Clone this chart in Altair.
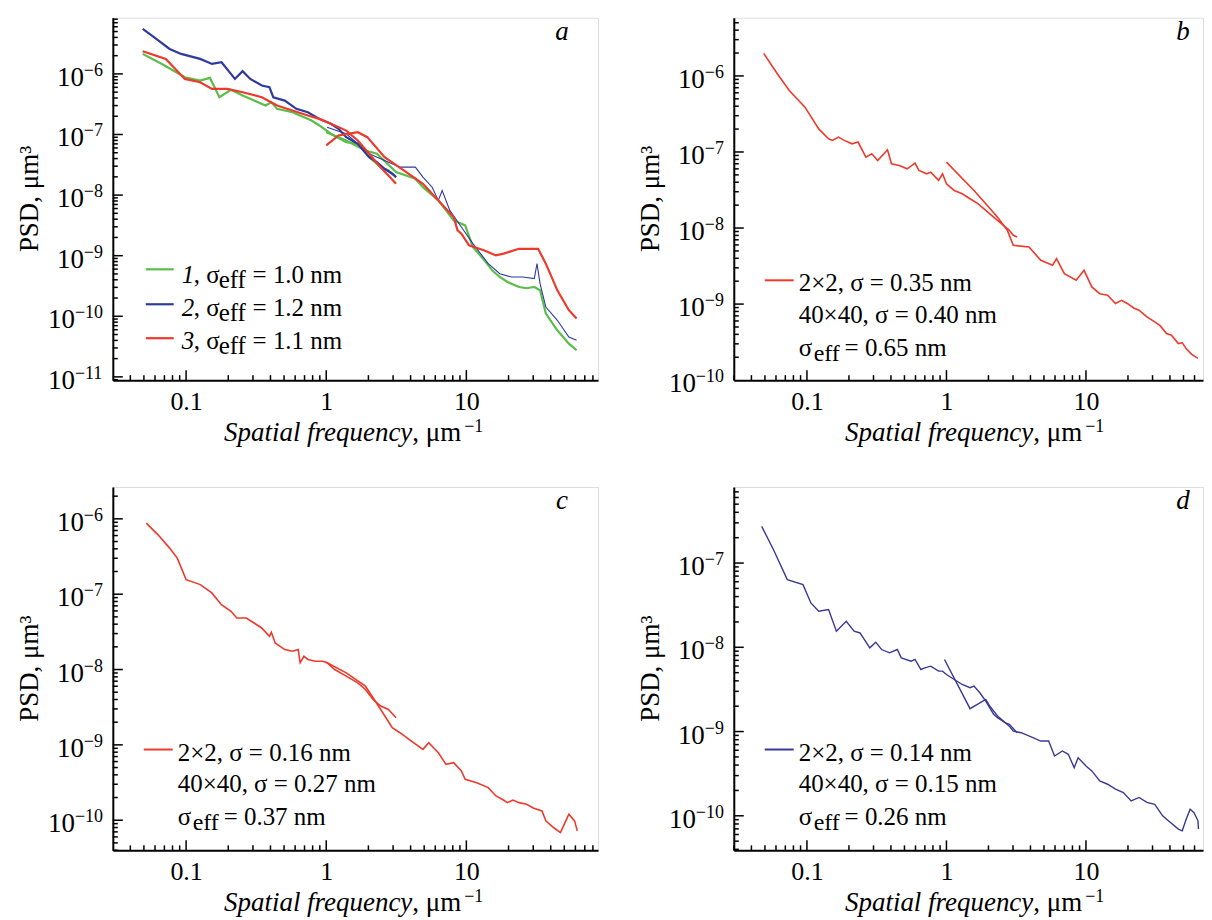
import math
import altair as alt
import pandas as pd

FONT = "Liberation Serif, Times New Roman, Times, DejaVu Serif, serif"

# ---------------- data ----------------
# Panel a : sample 1 (green), 2 (blue), 3 (red); "lo" = 40x40 scan, "hi" = 2x2 scan
a1_lo_f = [0.049, 0.0672, 0.098, 0.126, 0.148, 0.173, 0.209, 0.253, 0.306, 0.369, 0.406, 0.446,
           0.574, 0.694, 0.787, 0.893, 1.079, 1.389, 1.678, 2.027, 2.449, 2.779, 3.152]
a1_lo_p = [2.14e-6, 1.46e-6, 8.81e-7, 7.76e-7, 8.59e-7, 4.12e-7, 5.45e-7, 4.39e-7, 3.63e-7, 3.01e-7,
           3.41e-7, 2.65e-7, 2.33e-7, 1.93e-7, 1.70e-7, 1.41e-7, 1.03e-7, 7.47e-8, 7.02e-8, 4.23e-8,
           2.89e-8, 2.55e-8, 1.98e-8]
a1_hi_f = [1.0, 1.389, 1.904, 2.3, 3.152, 4.322, 4.901, 6.31, 8.12, 9.81, 11.13, 13.46, 15.27, 17.32,
           19.65, 23.73, 27.0, 30.54, 33.57, 36.92, 44.6, 53.9, 61.2]
a1_hi_p = [1.09e-7, 7.96e-8, 5.45e-8, 4.8e-8, 2.39e-8, 1.86e-8, 1.35e-8, 8.17e-9, 3.82e-9, 3.16e-9,
           1.39e-9, 8.38e-10, 5.73e-10, 4.45e-10, 3.68e-10, 3.04e-10, 2.9e-10, 3.04e-10, 2.68e-10,
           1.11e-10, 5.88e-11, 3.54e-11, 2.75e-11]

a2_lo_f = [0.049, 0.0593, 0.0763, 0.0921, 0.126, 0.153, 0.179, 0.209, 0.223, 0.253, 0.287, 0.347,
           0.393, 0.419, 0.506, 0.612, 0.739, 0.893, 1.079, 1.224, 1.389, 1.678, 2.027, 2.299, 2.609,
           2.96, 3.152]
a2_lo_p = [5.52e-6, 4.02e-6, 2.58e-6, 2.14e-6, 1.77e-6, 1.46e-6, 1.56e-6, 1.0e-6, 8.27e-7, 1.11e-6,
           8.27e-7, 6.42e-7, 6.03e-7, 4.12e-7, 3.63e-7, 2.65e-7, 2.33e-7, 1.81e-7, 1.50e-7, 1.24e-7,
           9.04e-8, 7.02e-8, 4.23e-8, 3.5e-8, 2.72e-8, 2.25e-8, 1.98e-8]
a2_hi_f = [1.013, 1.389, 2.027, 2.609, 3.357, 4.322, 4.901, 5.7, 6.31, 6.72, 7.62, 9.21, 11.13, 14.33,
           17.32, 20.93, 25.28, 30.54, 31.92, 33.57, 36.92, 44.6, 53.9, 61.2]
a2_hi_p = [1.32e-7, 1.03e-7, 4.8e-8, 3.73e-8, 2.89e-8, 2.89e-8, 1.98e-8, 1.35e-8, 8.17e-9, 1.19e-8,
           5.59e-9, 2.97e-9, 1.58e-9, 7.38e-10, 5.05e-10, 4.45e-10, 4.45e-10, 4.18e-10, 7.38e-10,
           3.45e-10, 1.42e-10, 8.59e-11, 4.56e-11, 4.02e-11]

a3_lo_f = [0.049, 0.0716, 0.098, 0.126, 0.153, 0.197, 0.253, 0.347, 0.446, 0.574, 0.739, 0.893,
           1.079, 1.389, 1.678, 2.027, 2.373, 2.779, 3.152]
a3_lo_p = [2.36e-6, 1.77e-6, 8.27e-7, 7.29e-7, 5.66e-7, 5.66e-7, 4.99e-7, 4.12e-7, 3.01e-7, 2.49e-7,
           2.06e-7, 1.81e-7, 1.50e-7, 1.16e-7, 7.96e-8, 4.8e-8, 3.08e-8, 2.11e-8, 1.54e-8]
a3_hi_f = [1.0, 1.224, 1.678, 1.965, 2.609, 3.576, 4.901, 6.31, 8.12, 8.65, 9.21, 10.45, 13.46, 16.26,
           18.45, 23.73, 32.53, 36.92, 44.6, 53.9, 61.2]
a3_hi_p = [6.59e-8, 9.63e-8, 1.09e-7, 9.04e-8, 4.23e-8, 2.55e-8, 1.54e-8, 8.17e-9, 4.34e-9, 2.62e-9,
           2.30e-9, 1.48e-9, 1.22e-9, 1.01e-9, 1.08e-9, 1.30e-9, 1.30e-9, 7.38e-10, 2.68e-10,
           1.26e-10, 9.15e-11]

# Panel b
b_lo_f = [0.049, 0.0615, 0.0747, 0.0968, 0.1215, 0.1429, 0.1525, 0.168, 0.1852, 0.2109, 0.2324,
          0.2646, 0.2916, 0.3214, 0.378, 0.4034, 0.4592, 0.5228, 0.5952, 0.6352, 0.7231, 0.7716,
          0.8785, 0.9372, 1.0, 1.138, 1.296, 1.476, 1.68, 1.913, 2.178, 2.48, 2.823, 3.012, 3.214]
b_lo_p = [1.98e-6, 1.06e-6, 6.42e-7, 3.88e-7, 2.01e-7, 1.49e-7, 1.42e-7, 1.57e-7, 1.42e-7, 1.28e-7,
          1.35e-7, 8.56e-8, 9.46e-8, 7.73e-8, 1.07e-7, 6.99e-8, 6.65e-8, 6.01e-8, 7.13e-8, 5.72e-8,
          5.17e-8, 5.44e-8, 4.23e-8, 5.17e-8, 3.82e-8, 3.12e-8, 2.82e-8, 2.43e-8, 2.09e-8, 1.71e-8,
          1.39e-8, 1.14e-8, 9.32e-9, 8.01e-9, 7.62e-9]
b_hi_f = [1.0, 1.575, 1.913, 2.324, 2.734, 3.012, 3.905, 4.745, 5.764, 6.149, 7.0, 8.51, 9.68, 11.02,
          12.55, 14.29, 16.27, 18.0, 19.76, 22.0, 24.01, 27.33, 31.12, 34.0, 37.8, 41.0, 45.92, 49.0,
          52.28, 57.0, 63.5]
b_hi_p = [7.35e-8, 3.12e-8, 2.09e-8, 1.39e-8, 9.32e-9, 5.92e-9, 5.63e-9, 3.76e-9, 3.24e-9, 3.96e-9,
          2.51e-9, 2.06e-9, 2.78e-9, 1.68e-9, 1.37e-9, 1.31e-9, 1.02e-9, 1.12e-9, 1.02e-9, 8.9e-10,
          8.3e-10, 6.79e-10, 5.83e-10, 5.2e-10, 4.1e-10, 3.9e-10, 3.03e-10, 3.1e-10, 2.6e-10,
          2.2e-10, 1.93e-10]

# Panel c
c_lo_f = [0.052, 0.0631, 0.0763, 0.0865, 0.1, 0.1263, 0.1526, 0.1787, 0.2092, 0.23, 0.2692, 0.3055,
          0.3465, 0.3933, 0.4059, 0.4321, 0.506, 0.574, 0.631, 0.6513, 0.6937, 0.739, 0.8384, 0.9508,
          1.013, 1.149, 1.389, 1.678, 1.904, 2.159, 2.449, 2.779, 3.152]
c_lo_p = [8.76e-7, 6.14e-7, 4.09e-7, 3.01e-7, 1.56e-7, 1.34e-7, 1.04e-7, 7.26e-8, 5.93e-8, 4.83e-8,
          4.83e-8, 4.15e-8, 3.56e-8, 2.76e-8, 3.12e-8, 2.25e-8, 1.84e-8, 1.75e-8, 1.84e-8, 1.23e-8,
          1.50e-8, 1.36e-8, 1.29e-8, 1.29e-8, 1.23e-8, 1.0e-8, 8.16e-9, 6.66e-9, 5.43e-9, 4.0e-9,
          3.27e-9, 2.95e-9, 2.29e-9]
c_hi_f = [1.0, 1.389, 1.904, 2.449, 2.96, 3.357, 4.057, 4.901, 5.39, 6.31, 7.16, 8.12, 9.21, 9.81,
          11.86, 14.33, 16.26, 18.0, 19.65, 21.5, 23.73, 26.92, 30.0, 34.65, 36.92, 41.87, 46.9,
          50.6, 53.9, 59.2, 61.9]
c_hi_p = [1.25e-8, 9.03e-9, 6.01e-9, 2.95e-9, 1.69e-9, 1.45e-9, 1.12e-9, 8.72e-10, 1.07e-9, 7.87e-10,
          5.51e-10, 5.8e-10, 4.5e-10, 3.49e-10, 3.15e-10, 2.71e-10, 2.1e-10, 1.9e-10, 1.71e-10,
          1.85e-10, 1.71e-10, 1.63e-10, 1.45e-10, 1.33e-10, 9.8e-11, 8.0e-11, 6.86e-11, 9.3e-11,
          1.2e-10, 9.8e-11, 7.22e-11]

# Panel d
d_lo_f = [0.0474, 0.0576, 0.0723, 0.0937, 0.1067, 0.1215, 0.1429, 0.1626, 0.1913, 0.2178, 0.2401,
          0.2823, 0.3112, 0.3429, 0.3905, 0.4445, 0.4745, 0.5579, 0.5952, 0.6561, 0.7, 0.7716,
          0.8785, 0.9372, 1.0, 1.138, 1.296, 1.476, 1.575, 1.735, 1.913, 2.178, 2.324, 2.646, 2.823,
          3.214]
d_lo_p = [2.72e-7, 1.44e-7, 6.35e-8, 5.54e-8, 3.36e-8, 2.68e-8, 2.80e-8, 1.55e-8, 2.04e-8, 1.55e-8,
          1.48e-8, 9.85e-9, 1.15e-8, 9.41e-9, 8.59e-9, 9.41e-9, 7.5e-9, 6.85e-9, 7.17e-9, 5.45e-9,
          5.71e-9, 5.97e-9, 5.21e-9, 5.21e-9, 4.76e-9, 4.15e-9, 3.62e-9, 3.31e-9, 3.46e-9, 2.89e-9,
          2.30e-9, 1.6e-9, 1.46e-9, 1.27e-9, 1.22e-9, 9.69e-10]
d_hi_f = [0.968, 1.476, 1.913, 2.041, 2.324, 2.823, 3.012, 3.429, 4.166, 4.745, 5.4, 5.952, 6.776,
          7.469, 8.232, 8.784, 10.0, 11.02, 12.55, 14.29, 16.27, 18.52, 21.08, 24.01, 27.33, 31.12,
          35.43, 40.33, 45.92, 48.98, 52.28, 55.8, 59.5, 63.5, 64.0]
d_hi_p = [7.17e-9, 1.87e-9, 2.41e-9, 2.01e-9, 1.53e-9, 1.16e-9, 1.01e-9, 9.69e-10, 8.46e-10,
          7.72e-10, 7.72e-10, 5.13e-10, 5.88e-10, 5.37e-10, 3.73e-10, 4.9e-10, 3.91e-10, 3.41e-10,
          2.59e-10, 2.37e-10, 2.07e-10, 1.89e-10, 1.50e-10, 1.65e-10, 1.44e-10, 1.37e-10, 1.0e-10,
          8.33e-11, 6.95e-11, 6.64e-11, 9.12e-11, 1.2e-10, 1.09e-10, 8.72e-11, 6.95e-11]

# axis tick labels
x_tick_values = [0.1, 1, 10]
a_y_exps = [-6, -7, -8, -9, -10, -11]
b_y_exps = [-6, -7, -8, -9, -10]
c_y_exps = [-6, -7, -8, -9, -10]
d_y_exps = [-7, -8, -9, -10]

# legend texts
a_legend = [("1", "1.0"), ("2", "1.2"), ("3", "1.1")]
b_legend = ["2×2, σ = 0.35 nm", "40×40, σ = 0.40 nm", "= 0.65 nm"]
c_legend = ["2×2, σ = 0.16 nm", "40×40, σ = 0.27 nm", "= 0.37 nm"]
d_legend = ["2×2, σ = 0.14 nm", "40×40, σ = 0.15 nm", "= 0.26 nm"]

GREEN = "#5bbd4a"
BLUE = "#2e3a9e"
RED = "#ee3a2a"
DBLUE = "#3a3896"


def log_ticks(lo, hi):
    major, minor = [], []
    for k in range(math.floor(math.log10(lo)) - 1, math.ceil(math.log10(hi)) + 1):
        for m in range(1, 10):
            v = float(f"{m}e{k}")
            if lo * 1.0001 < v < hi * 0.9999:
                (major if m == 1 else minor).append(v)
    return major, minor


ONE = pd.DataFrame({"k": [0]})


def txt(text, x, y, size=25, italic=False, align="left", angle=0, baseline="alphabetic"):
    kw = dict(text=text, font=FONT, fontSize=size, align=align, baseline=baseline, color="black")
    if italic:
        kw["fontStyle"] = "italic"
    if angle:
        kw["angle"] = angle
    return alt.Chart(ONE).mark_text(**kw).encode(x=alt.value(x), y=alt.value(y))


def seg(x1, x2, y, color, width=2.2):
    return alt.Chart(ONE).mark_rule(color=color, strokeWidth=width).encode(
        x=alt.value(x1), x2=alt.value(x2), y=alt.value(y))


def panel(series, xdom, ydom, w, h, yexps, extra, letter):
    xs = alt.Scale(type="log", domain=xdom, nice=False)
    ys = alt.Scale(type="log", domain=ydom, nice=False)
    xaxis = alt.Axis(values=x_tick_values, format="~g", tickSize=0, domainColor="black",
                     domainWidth=2, labelFont=FONT, labelFontSize=26, labelColor="black",
                     labelPadding=8, grid=False, title=None, labelFlush=False,
                     labelOverlap=False)
    yaxis = alt.Axis(values=[float(f"1e{e}") for e in yexps], labels=False,
                     tickSize=0, domainColor="black", domainWidth=2, grid=False, title=None)
    layers = []
    for f, p, color, sw in series:
        df = pd.DataFrame({"f": f, "psd": p})
        layers.append(alt.Chart(df).mark_line(color=color, strokeWidth=sw, clip=True).encode(
            x=alt.X("f:Q", scale=xs, axis=xaxis),
            y=alt.Y("psd:Q", scale=ys, axis=yaxis),
            order=alt.Order("f:Q")))
    xmaj, xmin = log_ticks(*xdom)
    ymaj, ymin = log_ticks(*ydom)
    for vals, ln in ((xmaj, 10), (xmin, 5)):
        layers.append(alt.Chart(pd.DataFrame({"f": vals})).mark_rule(color="black", strokeWidth=1.5).encode(
            x=alt.X("f:Q", scale=xs, axis=xaxis), y=alt.value(h), y2=alt.value(h - ln)))
    for vals, ln in ((ymaj, 10), (ymin, 5)):
        layers.append(alt.Chart(pd.DataFrame({"psd": vals})).mark_rule(color="black", strokeWidth=1.5).encode(
            y=alt.Y("psd:Q", scale=ys, axis=yaxis), x=alt.value(0), x2=alt.value(ln)))
    # y tick labels: "10" with a raised exponent
    for ndig, split in ((1, -29), (2, -38)):
        sel = [e for e in yexps if len(str(abs(e))) == ndig]
        if not sel:
            continue
        lab = pd.DataFrame({"psd": [float(f"1e{e}") for e in sel],
                            "ex": ["−" + str(abs(e)) for e in sel]})
        layers.append(alt.Chart(lab).mark_text(text="10", font=FONT, fontSize=27, align="right",
                                               baseline="alphabetic", dy=12, color="black").encode(
            y=alt.Y("psd:Q", scale=ys, axis=yaxis), x=alt.value(split)))
        layers.append(alt.Chart(lab).mark_text(font=FONT, fontSize=18, align="left",
                                               baseline="alphabetic", dy=2, color="black").encode(
            y=alt.Y("psd:Q", scale=ys, axis=yaxis), x=alt.value(split), text="ex:N"))
    # axis titles
    layers.append(txt("PSD, μm³", -83, h / 2, size=27, angle=270, align="center", baseline="middle"))
    layers.append(txt("Spatial frequency", 300, h + 61, size=27, italic=True, align="right"))
    layers.append(txt(", μm", 300, h + 61, size=27))
    layers.append(txt("−1", 352, h + 52, size=18))
    layers.append(txt(letter, 450, 22, size=27, italic=True, align="center"))
    layers.extend(extra)
    return alt.layer(*layers).properties(width=w, height=h)


# legends
a_extra = []
for (num, val), y_line, y_base, col in zip(a_legend, [252, 287, 321], [266, 299, 332], [GREEN, BLUE, RED]):
    a_extra += [seg(33, 61, y_line, col),
                txt(num, 69, y_base, italic=True),
                txt(", σ", 81, y_base),
                txt("eff", 106, y_base + 5, size=25),
                txt(f"= {val} nm", 140, y_base)]


def bcd_legend(lines, col):
    return [seg(31, 60, 263, col, 2),
            txt(lines[0], 65, 274),
            txt(lines[1], 65, 306),
            txt("σ", 65, 339),
            txt("eff", 80, 344, size=24),
            txt(lines[2], 111, 339)]


pa = panel([(a1_lo_f, a1_lo_p, GREEN, 2.2), (a1_hi_f, a1_hi_p, GREEN, 2.2),
            (a2_lo_f, a2_lo_p, BLUE, 2.2), (a2_hi_f, a2_hi_p, BLUE, 1.1),
            (a3_lo_f, a3_lo_p, RED, 2.2), (a3_hi_f, a3_hi_p, RED, 2.2)],
           [0.0300, 87.0], [8.83e-12, 8.45e-6], 486, 363, a_y_exps, a_extra, "a")
pb = panel([(b_lo_f, b_lo_p, RED, 1.6), (b_hi_f, b_hi_p, RED, 1.6)],
           [0.0299, 69.0], [1e-10, 5.82e-6], 470, 363, b_y_exps, bcd_legend(b_legend, RED), "b")
pc = panel([(c_lo_f, c_lo_p, RED, 1.6), (c_hi_f, c_hi_p, RED, 1.6)],
           [0.0300, 87.0], [3.98e-11, 2.65e-6], 486, 364, c_y_exps, bcd_legend(c_legend, RED), "c")
pd_ = panel([(d_lo_f, d_lo_p, DBLUE, 1.4), (d_hi_f, d_hi_p, DBLUE, 1.4)],
            [0.0299, 69.0], [3.89e-11, 8.0e-7], 470, 364, d_y_exps, bcd_legend(d_legend, DBLUE), "d")

chart = alt.concat(pa, pb, pc, pd_, columns=2, spacing={"row": 107, "column": 136},
                   bounds="flush").properties(
    padding={"left": 7, "top": 8, "right": 0, "bottom": 2}
).configure_view(stroke=None).configure(background="white")

chart.save("out.html", embed_options={"renderer": "svg", "actions": False})
